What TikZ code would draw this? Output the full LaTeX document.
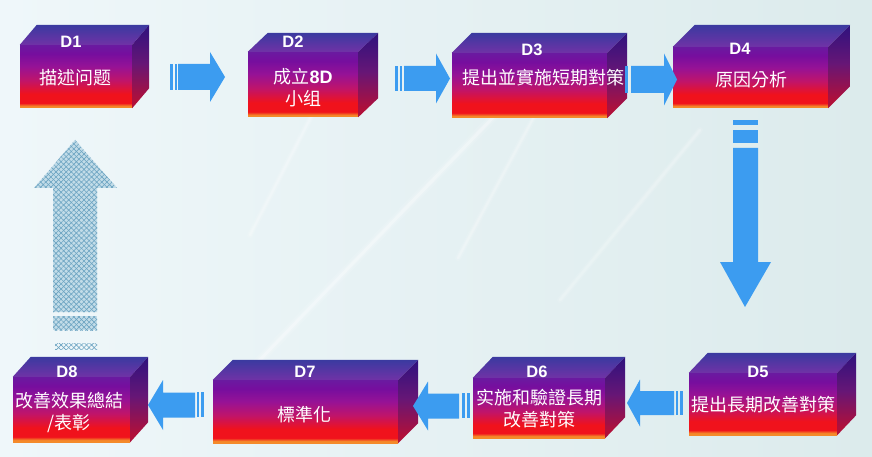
\documentclass[tikz,border=0pt]{standalone}
\usepackage{fontspec}
\setmainfont{Liberation Sans}
\newfontfamily\cjk{Noto Sans CJK TC}
\usetikzlibrary{calc,patterns.meta}
\definecolor{arrowblue}{HTML}{3C9CF0}
\definecolor{cOrange}{HTML}{F48A2A}
\definecolor{cRed}{HTML}{F0121C}
\definecolor{cMag}{HTML}{C0146A}
\definecolor{cPM}{HTML}{961296}
\definecolor{cPurp}{HTML}{760E9E}
\definecolor{cPurpL}{HTML}{6A1AA0}
\definecolor{tFront}{HTML}{7032A6}
\definecolor{tBack}{HTML}{3A3AA0}
\definecolor{sTop}{HTML}{2E127E}
\definecolor{sMid}{HTML}{661676}
\definecolor{sBot}{HTML}{B0103A}
\definecolor{bgL}{HTML}{EFF7FA}
\definecolor{bgR}{HTML}{DCEBEC}
\definecolor{hatchfill}{HTML}{C2DCE8}
\definecolor{hatchline}{HTML}{6CA4C2}
\pgfdeclareverticalshading{frontshade}{100bp}{color(0bp)=(cOrange); color(25bp)=(cOrange); color(26.5bp)=(cOrange); color(29bp)=(cRed); color(36bp)=(cRed); color(47bp)=(cMag); color(58bp)=(cPM); color(68bp)=(cPurp); color(75bp)=(cPurpL); color(100bp)=(cPurpL)}
\pgfdeclareverticalshading{topshade}{100bp}{color(0bp)=(tFront); color(25bp)=(tFront); color(75bp)=(tBack); color(100bp)=(tBack)}
\pgfdeclareverticalshading{sideshade}{100bp}{color(0bp)=(sBot); color(30bp)=(sBot); color(52bp)=(sMid); color(75bp)=(sTop); color(100bp)=(sTop)}
\tikzset{
  frontface/.style={shade, shading=frontshade, inner sep=0pt, draw=none},
  dlab/.style={text=white, font=\bfseries\fontsize{16.5}{16.5}\selectfont, inner sep=0pt},
  btxt/.style={text=white, font=\cjk\fontsize{18}{22}\selectfont, align=center, inner sep=0pt},
  blockarrow/.style={fill=arrowblue},
  streak/.style={white, line cap=round},
  hatchA/.style={pattern={Lines[angle=45,distance=3.6pt,line width=.6pt]}, pattern color=hatchline},
  hatchB/.style={pattern={Lines[angle=-45,distance=3.6pt,line width=.6pt]}, pattern color=hatchline},
}
\newcommand{\cubebox}[7]{%
  \pgfmathsetmacro\cbW{#4-#2}\pgfmathsetmacro\cbH{#5-#3}%
  \pgfmathsetmacro\cbX{(#2+#4)/2}\pgfmathsetmacro\cbY{(#3+#5)/2}%
  \node[frontface, minimum width=\cbW pt, minimum height=\cbH pt] (#1) at (\cbX,\cbY) {};
  \shade[shading=topshade] (#1.north west) -- ++(#6,-#7) -- ($(#1.north east)+(#6,-#7)$) -- (#1.north east) -- cycle;
  \shade[shading=sideshade] (#1.north east) -- ++(#6,-#7) -- ($(#1.south east)+(#6,-#7)$) -- (#1.south east) -- cycle;
}
% horizontal block arrow: body start, head base, tip, y centre, body half, head half
\newcommand{\harrow}[6]{%
  \fill[blockarrow] (#1,#4-#5) -- (#2,#4-#5) -- (#2,#4-#6) -- (#3,#4) -- (#2,#4+#6) -- (#2,#4+#5) -- (#1,#4+#5) -- cycle;}
\newcommand{\softstreak}[4]{% from, to, width, core opacity
  \draw[streak, opacity=.10, line width=#3*3pt] #1 -- #2;
  \draw[streak, opacity=.14, line width=#3*1.8pt] #1 -- #2;
  \draw[streak, opacity=#4, line width=#3*1pt] #1 -- #2;}
\begin{document}
\begin{tikzpicture}[x=1pt,y=-1pt]
\useasboundingbox (0,0) rectangle (872,457);
% background
\shade[left color=bgL, right color=bgR] (0,0) rectangle (872,457);
\softstreak{(255,365)}{(505,105)}{3}{.28}
\softstreak{(250,235)}{(312,115)}{2}{.18}
\softstreak{(458,258)}{(535,115)}{2}{.18}
\softstreak{(560,300)}{(700,130)}{2}{.12}

% crosshatched up arrow
\path[fill=hatchfill] (53,312) -- (53,188) -- (34,188) -- (75,140) -- (117,188) -- (97,188) -- (97,312) -- cycle;
\path[hatchA] (53,312) -- (53,188) -- (34,188) -- (75,140) -- (117,188) -- (97,188) -- (97,312) -- cycle;
\path[hatchB] (53,312) -- (53,188) -- (34,188) -- (75,140) -- (117,188) -- (97,188) -- (97,312) -- cycle;
\path[fill=hatchfill] (53,316) rectangle (97,330);
\path[hatchA] (53,316) rectangle (97,330);
\path[hatchB] (53,316) rectangle (97,330);
\path[hatchA] (55,343) rectangle (97,349);
\path[hatchB] (55,343) rectangle (97,349);

% boxes
\cubebox{D1}{20}{45}{132}{108}{17}{20}
\cubebox{D2}{248}{52}{358}{117}{20}{19}
\cubebox{D3}{452}{53}{607}{118}{20}{20}
\cubebox{D4}{673}{47}{828}{108}{22}{22}
\cubebox{D5}{689}{373}{837}{435}{19}{20}
\cubebox{D6}{473}{378}{605}{438}{20}{21}
\cubebox{D7}{213}{380}{398}{443}{20}{20}
\cubebox{D8}{13}{377}{130}{442}{18}{20}

% arrows D1 -> D2
\fill[blockarrow] (170,64) rectangle (172.5,90);
\fill[blockarrow] (174.5,64) rectangle (176.5,90);
\harrow{178}{210}{225}{77}{13}{25}
% D2 -> D3
\fill[blockarrow] (395,66) rectangle (397.5,91);
\fill[blockarrow] (399.5,66) rectangle (402,91);
\harrow{404}{436}{450}{78.5}{12.5}{25}
% D3 -> D4
\fill[blockarrow] (625,66) rectangle (628,93);
\harrow{631}{664}{677}{79.5}{13.5}{26}
% D4 -> D5 (down)
\fill[blockarrow] (733,120) rectangle (758,125);
\fill[blockarrow] (733,130) rectangle (758,143);
\fill[blockarrow] (733,148) -- (758,148) -- (758,262) -- (771,262) -- (745,307) -- (720,262) -- (733,262) -- cycle;
% D5 -> D6
\fill[blockarrow] (680,391) rectangle (682.5,415);
\fill[blockarrow] (676,391) rectangle (678,415);
\harrow{674}{640}{627}{403}{12}{23.5}
% D6 -> D7
\fill[blockarrow] (467,393) rectangle (469.5,418);
\fill[blockarrow] (462,393) rectangle (465,418);
\harrow{459}{428}{413}{406}{12.5}{24.5}
% D7 -> D8
\fill[blockarrow] (201,392) rectangle (203.5,417);
\fill[blockarrow] (197,392) rectangle (199,417);
\harrow{195}{163}{148}{405}{12.5}{25}

% labels
\node[dlab] (L1) at (71,42) {D1};
\node[dlab] (L2) at (293,42) {D2};
\node[dlab] (L3) at (532,50) {D3};
\node[dlab] (L4) at (740,49) {D4};
\node[dlab] (L5) at (758,372) {D5};
\node[dlab] (L6) at (537,372) {D6};
\node[dlab] (L7) at (305,372) {D7};
\node[dlab] (L8) at (67,372) {D8};

\node[btxt] (T1) at (75,78) {描述问题};
\node[btxt] (T2) at (303,88) {成立{\rmfamily\bfseries 8D}\\小组};
\node[btxt] (T3) at (543,78) {提出並實施短期對策};
\node[btxt] (T4) at (751,80) {原因分析};
\node[btxt] (T5) at (763,405) {提出長期改善對策};
\node[btxt] (T6) at (539,409) {实施和驗證長期\\改善對策};
\node[btxt] (T7) at (304,415) {標準化};
\node[btxt] (T8) at (69,412) {改善效果總結\\/表彰};
\end{tikzpicture}
\end{document}
